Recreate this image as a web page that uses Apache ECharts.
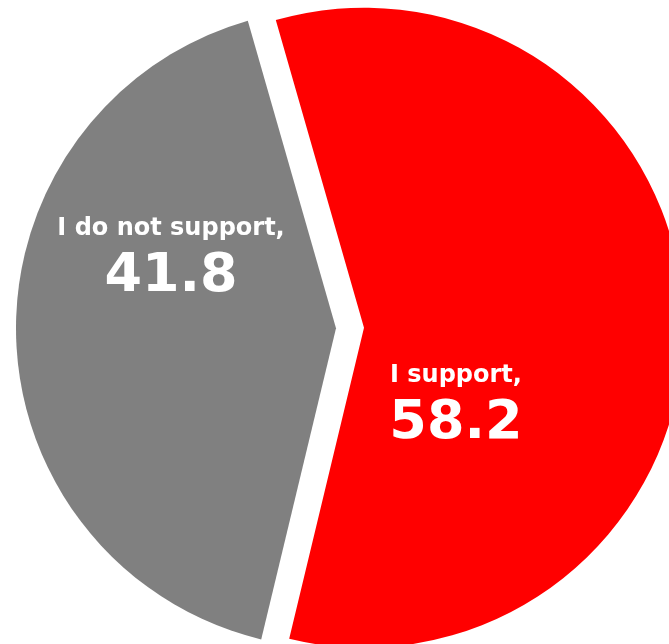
<!DOCTYPE html>
<html>
<head>
<meta charset="utf-8">
<script src="https://cdn.jsdelivr.net/npm/echarts@6/dist/echarts.min.js"></script>
<style>
html,body{margin:0;padding:0;background:#fff;}
#chart{width:669px;height:644px;}
</style>
</head>
<body>
<div id="chart"></div>
<script>
var categories = ['I support', 'I do not support'];
var values = [58.2, 41.8];
var colors = ['#FF0000', '#808080'];
var labelShift = [[-71, 85], [-2, -70]];

var chart = echarts.init(document.getElementById('chart'), null, {renderer: 'canvas'});
chart.setOption({
  animation: false,
  series: [{
    type: 'pie',
    center: [350, 328],
    radius: 320,
    startAngle: 106,
    clockwise: true,
    selectedMode: 'multiple',
    selectedOffset: 14,
    emphasis: {disabled: true},
    label: {
      show: true,
      position: 'inside',
      formatter: function (p) { return '{a|' + p.name + ',}\n{b|' + p.value.toFixed(1) + '}'; },
      rich: {
        a: {fontFamily: 'DejaVu Sans', fontWeight: 'bold', fontSize: 24, color: '#fff', lineHeight: 30, align: 'center'},
        b: {fontFamily: 'DejaVu Sans', fontWeight: 'bold', fontSize: 54, color: '#fff', lineHeight: 66, align: 'center'}
      }
    },
    labelLine: {show: false},
    labelLayout: function (p) {
      var s = labelShift[p.dataIndex];
      return {dx: s[0], dy: s[1]};
    },
    data: categories.map(function (c, i) {
      return {name: c, value: values[i], selected: true, itemStyle: {color: colors[i]}};
    })
  }]
});
</script>
</body>
</html>
